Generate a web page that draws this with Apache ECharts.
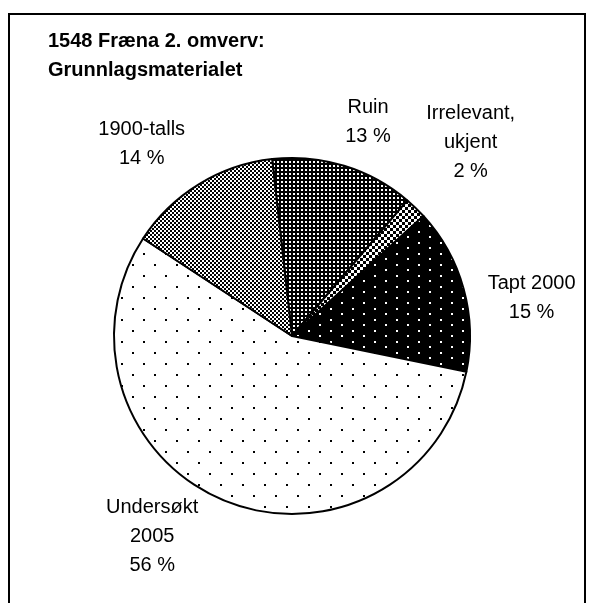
<!DOCTYPE html>
<html>
<head>
<meta charset="utf-8">
<script src="https://cdn.jsdelivr.net/npm/echarts@6/dist/echarts.min.js"></script>
<style>
  html, body { margin: 0; padding: 0; background: #fff; }
  #chart { width: 593px; height: 603px; }
</style>
</head>
<body>
<div id="chart"></div>
<script>
// slices, clockwise from just left of 12 o'clock
const categories = ['Ruin', 'Irrelevant,\nukjent', 'Tapt 2000', 'Undersøkt\n2005', '1900-talls'];
const shares = [13, 2, 15, 56, 14];
// label nudge from the middle of each slice's rim (px)
const labelOffset = [[24, -44], [55, -65], [68, 9], [-72, 36], [-57, -40]];

const pieCenter = [292, 336];
const pieRadius = 178;
const startAngle = 96.4;

// small bitmap fills like the old Excel patterns
function makePattern(w, h, bg, fg, rects) {
  const c = document.createElement('canvas');
  c.width = w;
  c.height = h;
  const ctx = c.getContext('2d');
  ctx.fillStyle = bg;
  ctx.fillRect(0, 0, w, h);
  ctx.fillStyle = fg;
  rects.forEach(r => ctx.fillRect(r[0], r[1], r[2], r[3]));
  return { image: c, repeat: 'repeat' };
}

const fills = [
  makePattern(4, 4, '#000', '#fff', [[1, 1, 2, 2]]),                  // Ruin
  makePattern(6, 6, '#fff', '#000', [[0, 0, 3, 3], [3, 3, 3, 3]]),    // Irrelevant
  makePattern(22, 11, '#000', '#fff', [[0, 0, 2, 2], [11, 5, 2, 2]]),  // Tapt
  makePattern(22, 22, '#fff', '#000', [[0, 0, 2, 2], [11, 11, 2, 2]]), // Undersøkt
  makePattern(4, 4, '#fff', '#000', [[0, 0, 2, 2], [2, 2, 2, 2]])     // 1900-talls
];

const total = shares.reduce((a, b) => a + b, 0);
let acc = 0;
const midAngles = shares.map(v => {
  const m = (90 - startAngle) + (acc + v / 2) / total * 360;
  acc += v;
  return m * Math.PI / 180;
});

let chart = echarts.init(document.getElementById('chart'));

const option = {
  backgroundColor: '#fff',
  animation: false,
  title: {
    text: '1548 Fræna 2. omverv:\nGrunnlagsmaterialet',
    left: 48,
    top: 27,
    padding: 0,
    textStyle: {
      fontFamily: 'Liberation Sans',
      fontWeight: 'bold',
      fontSize: 20,
      lineHeight: 29,
      color: '#000'
    }
  },
  graphic: [
    {
      type: 'rect',
      silent: true,
      shape: { x: 9, y: 14, width: 576, height: 620 },
      style: { fill: 'none', stroke: '#000', lineWidth: 2 }
    }
  ],
  series: [
    {
      type: 'pie',
      center: pieCenter,
      radius: pieRadius,
      startAngle: startAngle,
      clockwise: true,
      emphasis: { disabled: true },
      itemStyle: { borderColor: '#000', borderWidth: 2 },
      label: {
        show: true,
        position: 'outside',
        alignTo: 'none',
        overflow: 'none',
        formatter: '{b}\n{c} %',
        fontFamily: 'Liberation Sans',
        fontSize: 20,
        lineHeight: 29,
        color: '#000'
      },
      labelLine: { show: false },
      labelLayout: function (params) {
        const i = params.dataIndex;
        const a = midAngles[i];
        const rimX = pieCenter[0] + pieRadius * Math.sin(a);
        const rimY = pieCenter[1] - pieRadius * Math.cos(a);
        return {
          x: rimX + labelOffset[i][0],
          y: rimY + labelOffset[i][1],
          align: 'center',
          verticalAlign: 'middle'
        };
      },
      data: categories.map((name, i) => ({
        name: name,
        value: shares[i],
        itemStyle: { color: fills[i] }
      }))
    }
  ]
};

chart.setOption(option);
</script>
</body>
</html>
